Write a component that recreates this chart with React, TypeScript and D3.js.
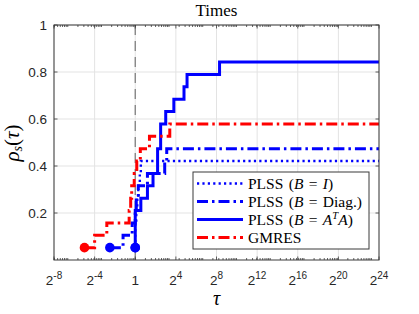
import React, { useEffect, useRef } from "react";
import * as d3 from "d3";

const nProblems = 19;
const chartTitle = "Times";
const xTickExponents = [-8, -4, 0, 4, 8, 12, 16, 20, 24];
const yTickValues = [0.2, 0.4, 0.6, 0.8, 1];

// log2 of the performance ratio of every solved problem (sorted)
const plssIdentity = [0, 0, 0, 0.1, 0.2, 0.3, 0.45, 0.55];
const plssDiag = [-2.5, -1.2, -0.3, 0, 0.1, 0.3, 1.2, 2.9, 3.1];
const plssAtA = [0, 0, 0, 0, 0.55, 1.2, 1.75, 2.2, 2.2, 2.5, 2.5, 3, 3.8, 4.8, 5.1, 8.3];
const gmres = [-5, -4, -2.8, -0.6, -0.45, -0.35, -0.1, 0.15, 0.5, 1.4, 3.4];

type Part = { t: string; it?: boolean; sup?: boolean };

const series: { label: Part[]; values: number[]; color: string; dash: string; width: number }[] = [
  {
    label: [{ t: "PLSS (" }, { t: "B", it: true }, { t: " = " }, { t: "I", it: true }, { t: ")" }],
    values: plssIdentity, color: "#0000ff", dash: "2.2,3.2", width: 2.4,
  },
  {
    label: [{ t: "PLSS (" }, { t: "B", it: true }, { t: " = Diag.)" }],
    values: plssDiag, color: "#0000ff", dash: "11,4,2.5,4", width: 3,
  },
  {
    label: [{ t: "PLSS (" }, { t: "B", it: true }, { t: " = " }, { t: "A", it: true }, { t: "T", it: true, sup: true }, { t: "A", it: true }, { t: ")" }],
    values: plssAtA, color: "#0000ff", dash: "", width: 3,
  },
  {
    label: [{ t: "GMRES" }],
    values: gmres, color: "#ff0000", dash: "11,4,2.5,4", width: 3,
  },
];

const App = () => {
  const ref = useRef<SVGSVGElement>(null);

  useEffect(() => {
    const svg = d3.select(ref.current);
    svg.selectAll("*").remove();

    const left = 54, right = 379, top = 25, bottom = 260;
    const x = d3.scaleLog().base(2).domain([2 ** -8, 2 ** 24]).range([left, right]);
    const y = d3.scaleLinear().domain([0, 1]).range([bottom, top]);
    const sans = "'Liberation Sans', Arial, sans-serif";
    const serif = "'Liberation Serif', 'DejaVu Serif', serif";

    svg.append("rect").attr("x", left).attr("y", top)
      .attr("width", right - left).attr("height", bottom - top).attr("fill", "#fff");

    // grid
    const grid = svg.append("g").attr("stroke", "#e3e3e3").attr("stroke-width", 1);
    xTickExponents.forEach((e) => {
      grid.append("line").attr("x1", x(2 ** e)).attr("x2", x(2 ** e)).attr("y1", top).attr("y2", bottom);
    });
    yTickValues.forEach((v) => {
      grid.append("line").attr("x1", left).attr("x2", right).attr("y1", y(v)).attr("y2", y(v));
    });

    // reference line at tau = 1
    svg.append("line").attr("x1", x(1)).attr("x2", x(1)).attr("y1", top).attr("y2", bottom)
      .attr("stroke", "#808080").attr("stroke-width", 1.3).attr("stroke-dasharray", "10,6");

    const line = d3.line<[number, number]>()
      .x((d) => x(2 ** d[0]))
      .y((d) => y(d[1] / nProblems))
      .curve(d3.curveStepAfter);

    series.forEach((s) => {
      const pts: [number, number][] = s.values.map((v, i) => [v, i + 1]);
      pts.push([24, s.values.length]);
      svg.append("path").attr("d", line(pts)).attr("fill", "none")
        .attr("stroke", s.color).attr("stroke-width", s.width)
        .attr("stroke-dasharray", s.dash || null);
    });
    series.forEach((s) => {
      svg.append("circle").attr("cx", x(2 ** s.values[0])).attr("cy", y(1 / nProblems))
        .attr("r", 4.8).attr("fill", s.color);
    });

    // axes box
    svg.append("rect").attr("x", left).attr("y", top)
      .attr("width", right - left).attr("height", bottom - top)
      .attr("fill", "none").attr("stroke", "#3a3a3a").attr("stroke-width", 1);

    const ticks = svg.append("g").attr("stroke", "#3a3a3a").attr("stroke-width", 0.8);
    const minor: number[] = [];
    for (let k = -3; k <= 7; k++) {
      for (let m = 1; m <= 9; m++) {
        const v = m * 10 ** k;
        if (v > 2 ** -8 && v < 2 ** 24) minor.push(v);
      }
    }
    minor.forEach((v) => {
      ticks.append("line").attr("x1", x(v)).attr("x2", x(v)).attr("y1", bottom).attr("y2", bottom - 2);
      ticks.append("line").attr("x1", x(v)).attr("x2", x(v)).attr("y1", top).attr("y2", top + 2);
    });
    xTickExponents.forEach((e) => {
      ticks.append("line").attr("x1", x(2 ** e)).attr("x2", x(2 ** e)).attr("y1", bottom).attr("y2", bottom - 3.5);
      ticks.append("line").attr("x1", x(2 ** e)).attr("x2", x(2 ** e)).attr("y1", top).attr("y2", top + 3.5);
    });
    yTickValues.forEach((v) => {
      ticks.append("line").attr("x1", left).attr("x2", left + 3.5).attr("y1", y(v)).attr("y2", y(v));
      ticks.append("line").attr("x1", right).attr("x2", right - 3.5).attr("y1", y(v)).attr("y2", y(v));
    });

    // tick labels
    xTickExponents.forEach((e) => {
      const t = svg.append("text").attr("x", x(2 ** e)).attr("y", 285)
        .attr("text-anchor", "middle").attr("font-family", sans).attr("font-size", 13.5).attr("fill", "#262626");
      if (e === 0) {
        t.text("1");
      } else {
        t.append("tspan").text("2");
        t.append("tspan").attr("dy", -6).attr("font-size", 10).text(String(e));
      }
    });
    yTickValues.forEach((v) => {
      svg.append("text").attr("x", 47).attr("y", y(v) + 4.8)
        .attr("text-anchor", "end").attr("font-family", sans).attr("font-size", 13.5)
        .attr("fill", "#262626").text(String(v));
    });

    // title and axis labels
    svg.append("text").attr("x", (left + right) / 2).attr("y", 16).attr("text-anchor", "middle")
      .attr("font-family", serif).attr("font-size", 17).text(chartTitle);
    svg.append("text").attr("x", (left + right) / 2).attr("y", 305).attr("text-anchor", "middle")
      .attr("font-family", serif).attr("font-style", "italic").attr("font-size", 20).text("τ");
    const yl = svg.append("text").attr("transform", `translate(19,143) rotate(-90)`)
      .attr("text-anchor", "middle").attr("font-family", serif).attr("font-size", 21);
    yl.append("tspan").attr("font-style", "italic").text("ρ");
    yl.append("tspan").attr("font-style", "italic").attr("font-size", 14).attr("dy", 3).text("s");
    yl.append("tspan").attr("dy", -3).text("(");
    yl.append("tspan").attr("font-style", "italic").text("τ");
    yl.append("tspan").text(")");

    // legend
    const lg = svg.append("g");
    lg.append("rect").attr("x", 193).attr("y", 172).attr("width", 176).attr("height", 77)
      .attr("fill", "#fff").attr("stroke", "#3a3a3a").attr("stroke-width", 1);
    series.forEach((s, i) => {
      const ry = 183.5 + i * 18;
      lg.append("line").attr("x1", 197).attr("x2", 243).attr("y1", ry).attr("y2", ry)
        .attr("stroke", s.color).attr("stroke-width", s.width)
        .attr("stroke-dasharray", s.dash || null);
      const t = lg.append("text").attr("x", 248).attr("y", ry + 5)
        .attr("font-family", serif).attr("font-size", 15.5).attr("word-spacing", 1.5)
        .attr("fill", "#000");
      let shifted = false;
      s.label.forEach((p) => {
        const ts = t.append("tspan").text(p.t).attr("xml:space", "preserve");
        if (p.it) ts.attr("font-style", "italic");
        if (p.sup) { ts.attr("dy", -6).attr("font-size", 10.5); shifted = true; }
        else if (shifted) { ts.attr("dy", 6); shifted = false; }
      });
    });
  }, []);

  return (
    <svg
      ref={ref}
      width={419}
      height={314}
      style={{ position: "absolute", left: 0, top: 0, background: "#fff" }}
    />
  );
};

export default App;
